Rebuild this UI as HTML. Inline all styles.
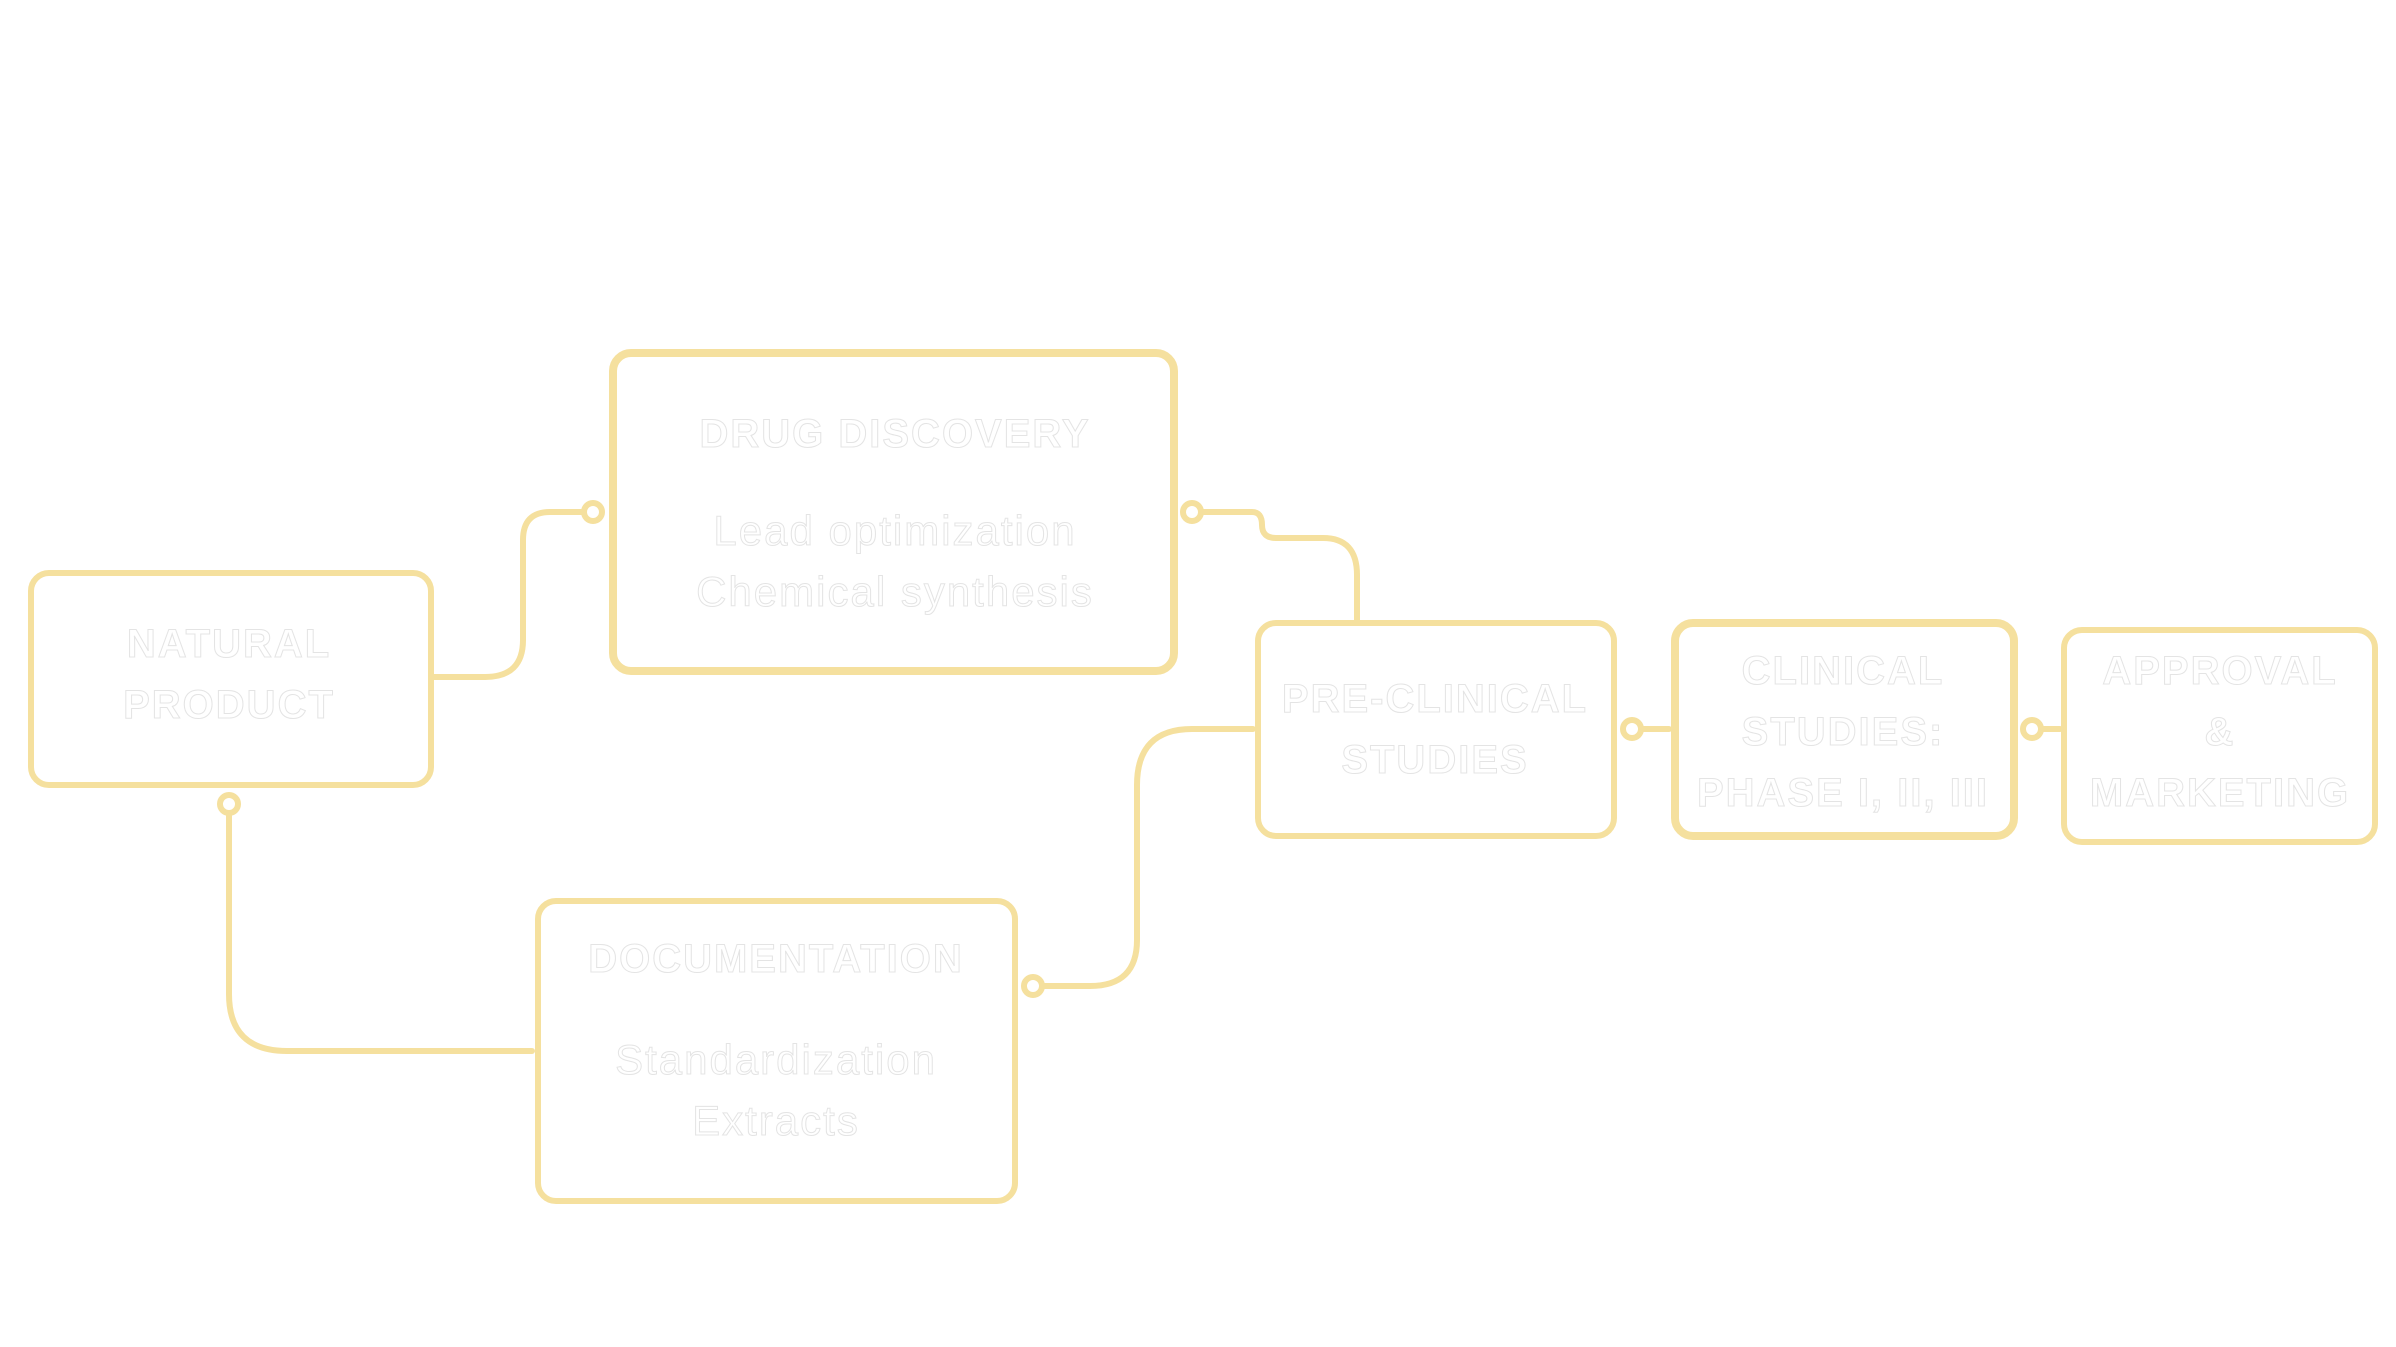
<!DOCTYPE html>
<html><head><meta charset="utf-8"><style>html,body{margin:0;padding:0;background:#fff}svg{display:block}</style></head>
<body>
<svg width="2396" height="1347" viewBox="0 0 2396 1347" xmlns="http://www.w3.org/2000/svg">
<g fill="none" stroke="#f5e09e" stroke-width="6" stroke-linecap="round" stroke-linejoin="round">
<rect x="31" y="573" width="400" height="212" rx="18"/>
<rect x="613" y="353" width="561" height="318" rx="18" stroke-width="8"/>
<rect x="538" y="901" width="477" height="300" rx="18"/>
<rect x="1258" y="623" width="356" height="213" rx="18"/>
<rect x="1675" y="623" width="339" height="213" rx="18" stroke-width="8"/>
<rect x="2064" y="630" width="311" height="212" rx="18"/>
<path d="M434 677 H485 Q523 677 523 640 V540 Q523 512 550 512 H584"/>
<circle cx="593" cy="512" r="9" fill="#fff"/>
<path d="M1201 512 H1252 Q1262 512 1262 525 Q1262 538 1276 538 H1323 Q1357 538 1357 575 V620"/>
<circle cx="1192" cy="512" r="9" fill="#fff"/>
<path d="M1042 986 H1090 Q1137 986 1137 940 V785 Q1137 729 1192 729 H1253"/>
<circle cx="1033" cy="986" r="9" fill="#fff"/>
<path d="M229 813 V994 Q229 1051 287 1051 H532"/>
<circle cx="229" cy="804" r="9" fill="#fff"/>
<path d="M1641 729 H1669"/>
<circle cx="1632" cy="729" r="9" fill="#fff"/>
<path d="M2041 729 H2060"/>
<circle cx="2032" cy="729" r="9" fill="#fff"/>
</g>
<g font-family="Liberation Sans, sans-serif" fill="#fff" stroke="#e4e4e4" stroke-width="1" text-anchor="middle">
<g font-weight="bold" font-size="40" letter-spacing="2">
<text x="229" y="657">NATURAL</text>
<text x="229" y="718">PRODUCT</text>
<text x="895" y="447">DRUG DISCOVERY</text>
<text x="776" y="972">DOCUMENTATION</text>
<text x="1435" y="712">PRE-CLINICAL</text>
<text x="1435" y="773">STUDIES</text>
<text x="1843" y="684">CLINICAL</text>
<text x="1843" y="745">STUDIES:</text>
<text x="1843" y="806">PHASE I, II, III</text>
<text x="2220" y="684">APPROVAL</text>
<text x="2220" y="745">&amp;</text>
<text x="2220" y="806">MARKETING</text>
</g>
<g font-size="42" letter-spacing="2">
<text x="895" y="545">Lead optimization</text>
<text x="895" y="606">Chemical synthesis</text>
<text x="776" y="1074">Standardization</text>
<text x="776" y="1135">Extracts</text>
</g>
</g>
</svg>
</body></html>
